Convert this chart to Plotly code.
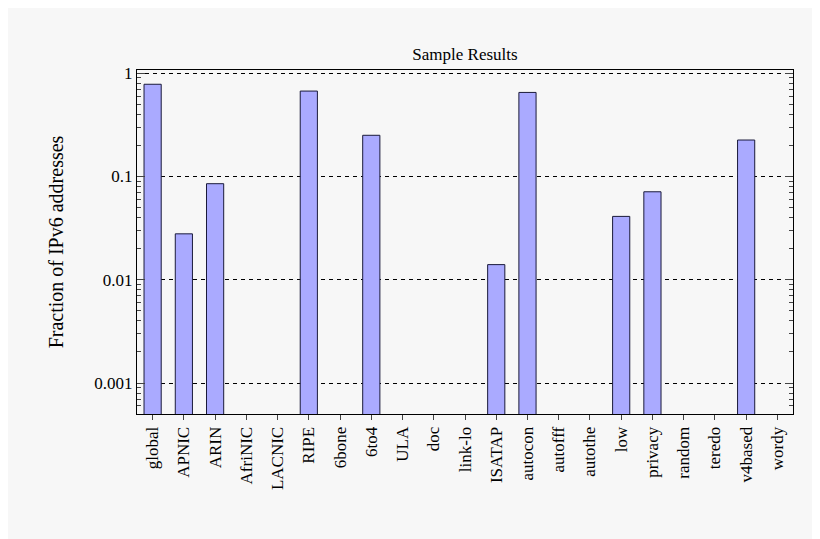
import plotly.graph_objects as go

categories = ["global","APNIC","ARIN","AfriNIC","LACNIC","RIPE","6bone","6to4","ULA","doc","link-lo","ISATAP","autocon","autofff","autothe","low","privacy","random","teredo","v4based","wordy"]
values = [0.78,0.0278,0.085,None,None,0.67,None,0.25,None,None,None,0.014,0.65,None,None,0.041,0.071,None,None,0.225,None]
tickvals = [0.001,0.01,0.1,1]
ticktext = ["0.001","0.01","0.1","1"]
minorvals = [m * 10**e for e in (-4, -3, -2, -1) for m in range(2, 10)]

fig = go.Figure(go.Bar(x=categories, y=values, width=0.55,
    marker=dict(color="#aaaaff", line=dict(color="#1a1a3a", width=1))))
font = dict(family="Liberation Serif, Times New Roman, serif", size=17, color="black")
fig.update_layout(
    width=820, height=539, paper_bgcolor="#f7f7f7", plot_bgcolor="#f7f7f7",
    margin=dict(l=129, r=35, t=62, b=133), font=font, showlegend=False,
    title=dict(text="Sample Results", x=0.5, xanchor="center", xref="paper", y=0.925, font=dict(size=17)),
)
fig.update_xaxes(showline=True, linecolor="black", mirror=True, tickangle=-90, ticks="outside", ticklen=5, showgrid=False)
fig.update_yaxes(type="log", range=[-3.3, 0.03], tickvals=tickvals, ticktext=ticktext,
    showline=True, linecolor="black", mirror="ticks", ticks="inside", ticklen=8,
    minor=dict(ticks="inside", ticklen=4, tickvals=minorvals, showgrid=False),
    showgrid=True, gridcolor="black", griddash="4px,4px", gridwidth=1,
    title=dict(text="Fraction of IPv6 addresses", standoff=25))
fig.write_html("out.html")
